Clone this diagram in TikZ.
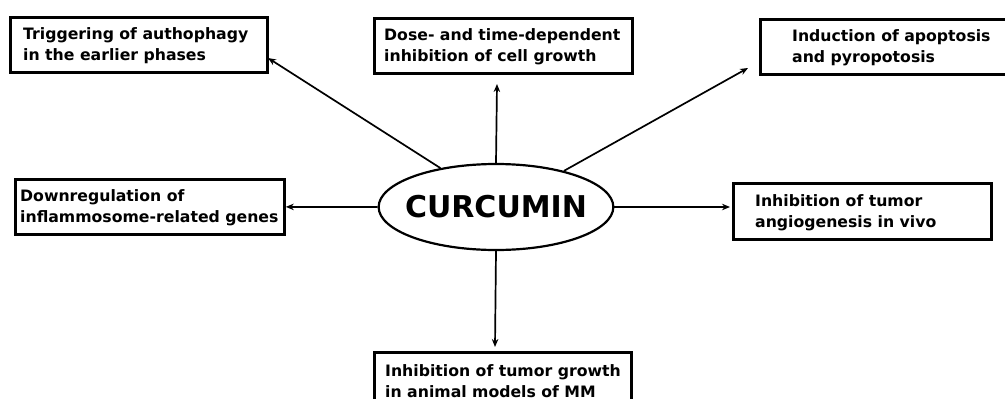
\documentclass[tikz,border=0pt]{standalone}
\usepackage{fontspec}
\setmainfont{DejaVu Sans}
\usetikzlibrary{arrows.meta,calc,shapes.geometric}
\begin{document}
\begin{tikzpicture}[x=1pt,y=-1pt,
  boxshape/.style={draw, line width=2.8pt, rectangle, anchor=north west, inner sep=0pt},
  lbl/.style={anchor=west, align=left, inner sep=0pt, font=\bfseries\fontsize{15.7}{21}\selectfont},
  arr/.style={-{Stealth[length=8pt,width=6.5pt]}, line width=1.7pt}]
\useasboundingbox (0,0) rectangle (1005,399);
\clip (0,0) rectangle (1005,399);
% boxes
\node[boxshape, minimum width=257pt, minimum height=55pt] (b1) at (9,16) {};
\node[boxshape, minimum width=258pt, minimum height=55pt] (b2) at (373,17) {};
\node[boxshape, minimum width=257pt, minimum height=55pt] (b3) at (759,18) {};
\node[boxshape, minimum width=269pt, minimum height=55pt] (b4) at (14,178) {};
\node[boxshape, minimum width=258pt, minimum height=56pt] (b5) at (732,182) {};
\node[boxshape, minimum width=257pt, minimum height=55pt] (b6) at (373,351) {};
% labels
\node[lbl] (t1) at ($(b1.west)+(14,1)$) {Triggering of authophagy\\in the earlier phases};
\node[lbl] (t2) at ($(b2.west)+(11,1)$) {Dose- and time-dependent\\inhibition of cell growth};
\node[lbl] (t3) at ($(b3.west)+(33,1)$) {Induction of apoptosis\\and pyropotosis};
\node[lbl] (t4) at ($(b4.west)+(6,1)$) {Downregulation of\\inflammosome-related genes};
\node[lbl] (t5) at ($(b5.west)+(23,1)$) {Inhibition of tumor\\angiogenesis in vivo};
\node[lbl] (t6) at ($(b6.west)+(12,1)$) {Inhibition of tumor growth\\in animal models of MM};
% centre
\node[draw, ellipse, line width=2.2pt, minimum width=231pt, minimum height=86pt,
      inner xsep=-8pt, inner ysep=0pt,
      font=\bfseries\fontsize{30}{34}\selectfont] (cur) at (496,207) {CURCUMIN};
% arrow ends
\coordinate (e1) at (268,58);
\coordinate (e2) at (497,84);
\coordinate (e3) at (748,68);
\coordinate (e5) at (730,207);
\coordinate (e6) at (495,347);
\draw[arr] (cur.145) -- (e1);
\draw[arr] (cur.north) -- (e2);
\draw[arr] (cur.28) -- (e3);
\draw[arr] (cur.west) -- (b4.east);
\draw[arr] (cur.east) -- (e5);
\draw[arr] (cur.south) -- (e6);
\end{tikzpicture}
\end{document}
